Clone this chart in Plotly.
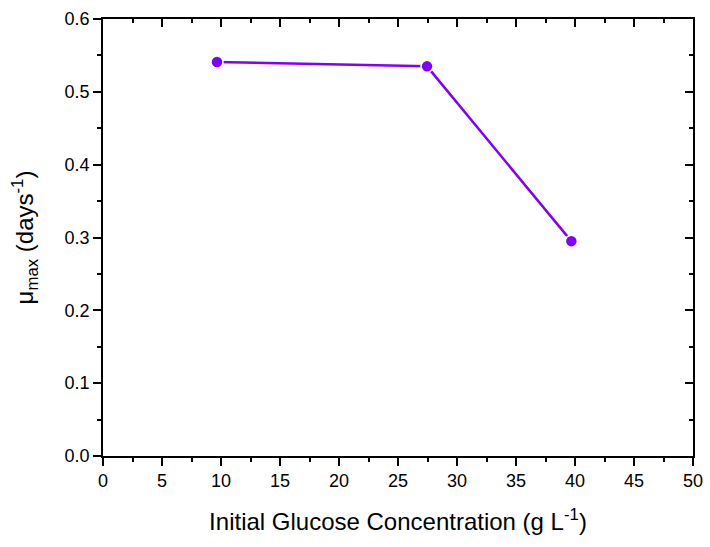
import plotly.graph_objects as go

glucose = [9.66, 27.46, 39.69]
mu_max = [0.541, 0.535, 0.295]

x_ticks = [0, 5, 10, 15, 20, 25, 30, 35, 40, 45, 50]
y_ticks = [0.0, 0.1, 0.2, 0.3, 0.4, 0.5, 0.6]
y_tick_text = ["0.0", "0.1", "0.2", "0.3", "0.4", "0.5", "0.6"]

color = "#8000FF"
FONT = "Liberation Sans, Arial, sans-serif"

fig = go.Figure()
fig.add_trace(go.Scatter(
    x=glucose, y=mu_max, mode="lines+markers",
    line=dict(color=color, width=2.5),
    marker=dict(color=color, size=12, line=dict(color="white", width=1.5)),
    showlegend=False,
))
# invisible trace to activate mirrored (inside) tick axes
fig.add_trace(go.Scatter(
    x=glucose, y=mu_max, xaxis="x2", yaxis="y2", mode="lines",
    line=dict(color="rgba(0,0,0,0)"), hoverinfo="skip", showlegend=False,
))

axis_common = dict(showgrid=False, zeroline=False, showline=True,
                   linecolor="black", linewidth=1.5, tickcolor="black",
                   tickwidth=1.5, automargin=False)

fig.update_layout(
    width=710, height=547,
    margin=dict(l=103, r=17, t=19, b=91),
    plot_bgcolor="white", paper_bgcolor="white",
    font=dict(family=FONT, color="black"),
    xaxis=dict(range=[0, 50], tickvals=x_ticks, ticks="outside", ticklen=8,
               minor=dict(ticks="outside", ticklen=4, dtick=2.5, tickcolor="black", tickwidth=1.5),
               tickfont=dict(size=18), mirror=True,
               title=dict(text="Initial Glucose Concentration (g L<sup>-1</sup>)",
                          font=dict(size=24), standoff=23),
               **axis_common),
    yaxis=dict(range=[0, 0.6], tickvals=y_ticks, ticktext=y_tick_text,
               ticks="outside", ticklen=8,
               minor=dict(ticks="outside", ticklen=4, dtick=0.05, tickcolor="black", tickwidth=1.5),
               tickfont=dict(size=18), mirror=True,
               title=dict(text="μ<sub>max</sub> (days<sup>-1</sup>)",
                          font=dict(size=24), standoff=24),
               **axis_common),
    xaxis2=dict(range=[0, 50], overlaying="x", side="top", tickvals=x_ticks,
                ticks="inside", ticklen=8, showticklabels=False,
                minor=dict(ticks="inside", ticklen=4, dtick=2.5, tickcolor="black", tickwidth=1.5),
                **axis_common),
    yaxis2=dict(range=[0, 0.6], overlaying="y", side="right", tickvals=y_ticks,
                ticks="inside", ticklen=8, showticklabels=False,
                minor=dict(ticks="inside", ticklen=4, dtick=0.05, tickcolor="black", tickwidth=1.5),
                **axis_common),
)

fig.write_html("out.html")
